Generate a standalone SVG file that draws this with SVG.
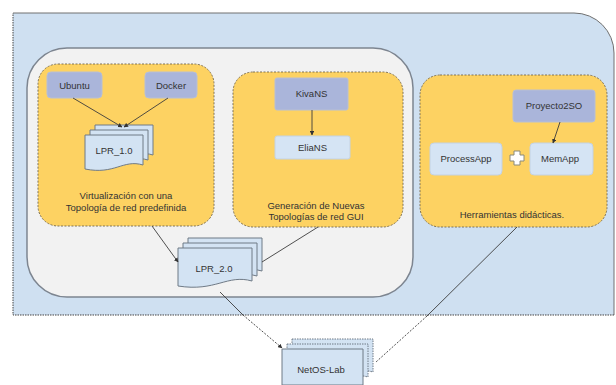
<svg xmlns="http://www.w3.org/2000/svg" width="616" height="385" viewBox="0 0 616 385">
<defs>
<style>
text{font-family:"Liberation Sans",Arial,sans-serif;font-size:9.5px;fill:#333;text-anchor:middle}
.yel{fill:#fdd262;stroke:#7f7256;stroke-width:1;stroke-dasharray:2,1.5}
.dark{fill:#aab5da;stroke:#b8bfd4;stroke-width:1}
.lite{fill:#d5e4f4;stroke:#c4d2e2;stroke-width:1}
.doc{fill:#d3e3f3;stroke:#6f7a86;stroke-width:1}
.con{fill:none;stroke:#3c3c3c;stroke-width:0.9}
.dot{fill:none;stroke:#3c3c3c;stroke-width:0.9;stroke-dasharray:2,1.5}
</style>
<marker id="ah" viewBox="0 0 10 10" refX="9" refY="5" markerWidth="5" markerHeight="5" orient="auto">
<path d="M0,0 L10,5 L0,10 z" fill="#333"/>
</marker>
</defs>

<g id="outer">
<path d="M13,13 H574 A40,40 0 0 1 614,53 V315 H13 Z" fill="#cfe0f1"/>
<path d="M13,13 H574 A40,40 0 0 1 614,53 V315" fill="none" stroke="#707070" stroke-width="1"/>
<path d="M614,315 H13 V13" fill="none" stroke="#444" stroke-width="1" stroke-dasharray="1.5,1"/>
</g>

<g id="inner">
<rect x="27" y="48" width="386" height="249" rx="40" fill="#f2f2f2" stroke="#7d8590" stroke-width="1.5"/>
</g>

<g id="virtualizacion">
<rect class="yel" x="38" y="64" width="176" height="162" rx="20"/>
<text x="126" y="199">Virtualización con una</text>
<text x="126" y="211">Topología de red predefinida</text>
</g>
<g id="ubuntu">
<rect class="dark" x="47" y="72" width="55" height="26" rx="4"/>
<text x="74.5" y="88.5">Ubuntu</text>
</g>
<g id="docker">
<rect class="dark" x="145" y="72" width="52" height="26" rx="4"/>
<text x="171" y="88.5">Docker</text>
</g>
<g id="lpr1">
<path class="doc" d="M95,125 H153 V155 C133,149 125,165 95,159 Z"/>
<path class="doc" d="M90,130 H148 V160 C128,154 120,170 90,164 Z"/>
<path class="doc" d="M85,135 H143 V165 C123,159 115,175 85,169 Z"/>
<text x="114" y="154">LPR_1.0</text>
</g>

<g id="generacion">
<rect class="yel" x="233" y="72" width="170" height="155" rx="20"/>
<text x="316" y="209">Generación de Nuevas</text>
<text x="316" y="220">Topologías de red GUI</text>
</g>
<g id="kivans">
<rect class="dark" x="275" y="78" width="73" height="32" rx="2"/>
<text x="311.5" y="97">KivaNS</text>
</g>
<g id="eliens">
<rect class="lite" x="275" y="136" width="75" height="23" rx="2"/>
<text x="312.5" y="151">EliaNS</text>
</g>

<g id="herramientas">
<rect class="yel" x="420" y="75" width="187" height="152" rx="20"/>
<text x="512" y="218">Herramientas didácticas.</text>
</g>
<g id="proyecto2so">
<rect class="dark" x="513" y="90" width="82" height="32" rx="3"/>
<text x="554" y="109">Proyecto2SO</text>
</g>
<g id="processapp">
<rect class="lite" x="430" y="143" width="72" height="32" rx="4"/>
<text x="466" y="162">ProcessApp</text>
</g>
<g id="memapp">
<rect class="lite" x="530" y="143" width="63" height="32" rx="4"/>
<text x="560" y="162">MemApp</text>
</g>
<g id="plus">
<path d="M514,151 h6 v4 h4 v6 h-4 v4 h-6 v-4 h-4 v-6 h4 z" fill="#fff" stroke="#8a8a7a" stroke-width="1"/>
</g>

<g id="lpr2">
<path class="doc" d="M188,238 H262 V271 C237,264 226,282 188,276 Z"/>
<path class="doc" d="M183,243 H257 V276 C232,269 221,287 183,281 Z"/>
<path class="doc" d="M178,248 H252 V281 C227,274 216,292 178,286 Z"/>
<text x="214" y="272">LPR_2.0</text>
</g>

<g id="netoslab">
<path class="doc" d="M292,339 H373 V372 C346,365 334,383 292,377 Z" stroke-dasharray="1.5,1"/>
<path class="doc" d="M287,344 H368 V377 C341,370 329,388 287,382 Z" stroke-dasharray="1.5,1"/>
<path class="doc" d="M282,349 H363 V385 H282 Z"/>
<text x="321" y="373">NetOS-Lab</text>
</g>

<g id="connectors">
<line class="con" x1="73" y1="98" x2="122" y2="127" marker-end="url(#ah)"/>
<line class="con" x1="168" y1="98" x2="124" y2="127" marker-end="url(#ah)"/>
<line class="con" x1="312" y1="110" x2="312" y2="135" marker-end="url(#ah)"/>
<line class="con" x1="560" y1="122" x2="553" y2="143" marker-end="url(#ah)"/>
<line class="con" x1="152" y1="226" x2="178" y2="262" marker-end="url(#ah)"/>
<line class="con" x1="318" y1="227" x2="262" y2="262"/>
<line class="con" x1="220" y1="292" x2="243" y2="315"/>
<line class="dot" x1="243" y1="315" x2="282" y2="348" marker-end="url(#ah)"/>
<line class="con" x1="517" y1="227" x2="427" y2="316"/>
<line class="dot" x1="427" y1="316" x2="376" y2="362"/>
</g>
</svg>
